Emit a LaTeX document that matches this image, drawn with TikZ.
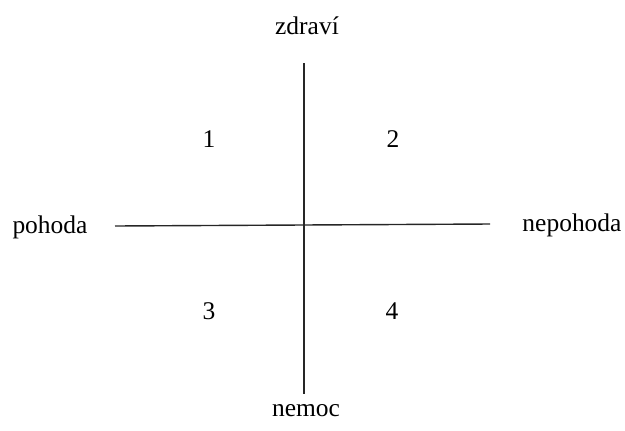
\documentclass[tikz,border=0pt]{standalone}
\usepackage{fontspec}
\setmainfont{Liberation Serif}
\usetikzlibrary{positioning}

\begin{document}
\begin{tikzpicture}[
  x=0.02cm, y=-0.02cm,
  lbl/.style={font=\fontsize{14.5}{17}\selectfont, inner sep=0pt},
  axis/.style={line width=0.8pt, black!85}
]
\useasboundingbox (0,0) rectangle (625,430);
% axes
\coordinate (top) at (304,63);
\coordinate (bot) at (304,394);
\coordinate (lft) at (115,226);
\coordinate (rgt) at (490,224);
\draw[axis] (top) -- (bot);
\draw[axis] (lft) -- (rgt);
% end labels
\node[lbl] (zdravi) at (307,26) {zdraví};
\node[lbl] (nemoc) at (306,411) {nemoc};
\node[lbl] (pohoda) at (50,227) {pohoda};
\node[lbl] (nepohoda) at (572,225) {nepohoda};
% quadrants
\node[lbl] (q1) at (209,139) {1};
\node[lbl] (q2) at (393,139) {2};
\node[lbl] (q3) at (209,311) {3};
\node[lbl] (q4) at (392,311) {4};
\end{tikzpicture}
\end{document}
